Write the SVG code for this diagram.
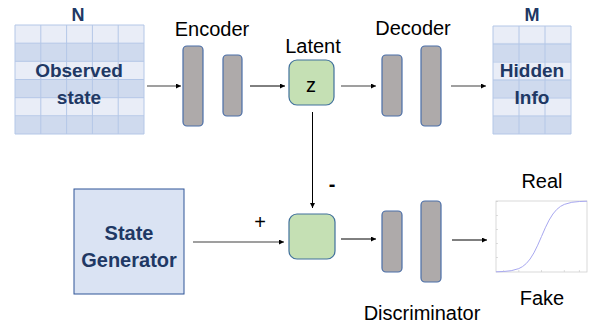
<svg xmlns="http://www.w3.org/2000/svg" width="595" height="326" viewBox="0 0 595 326">
<defs>
<marker id="ah" viewBox="0 0 6 6" refX="6" refY="3" markerWidth="5" markerHeight="5" markerUnits="userSpaceOnUse" orient="auto"><path d="M0,0 L6,3 L0,6 z" fill="#000"/></marker>
<pattern id="rowsN" x="0" y="25" width="10" height="36.33" patternUnits="userSpaceOnUse">
<rect x="0" y="0" width="10" height="18.17" fill="#E9EDF7"/>
<rect x="0" y="18.17" width="10" height="18.17" fill="#CFDAEE"/>
</pattern>
</defs>
<style>
.lbl{font-family:"Liberation Sans",Arial,sans-serif;font-size:20px;fill:#000;text-anchor:middle}
.bt{font-family:"Liberation Sans",Arial,sans-serif;font-weight:bold;fill:#203864;text-anchor:middle}
.bar{fill:#AEAAAA;stroke:#4A6EA8;stroke-width:1.2}
.green{fill:#C5E0B4;stroke:#41719C;stroke-width:1.2}
.gl{stroke:#B4C7E7;stroke-width:1;fill:none}
.cg{stroke:#7F7F7F;stroke-width:1.4;fill:none}
.cb{stroke:#000;stroke-width:1;fill:none}
</style>

<g id="observed-state">
<rect x="15" y="25" width="129" height="109" fill="url(#rowsN)"/>
<path class="gl" d="M15,25 H144 V134 H15 Z M40.8,25 V134 M66.6,25 V134 M92.4,25 V134 M118.2,25 V134 M15,43.2 H144 M15,61.3 H144 M15,79.5 H144 M15,97.7 H144 M15,115.8 H144"/>
<text class="bt" x="78" y="21" font-size="18">N</text>
<text class="bt" x="79" y="77" font-size="19">Observed</text>
<text class="bt" x="79" y="104" font-size="19">state</text>
</g>

<g id="encoder">
<rect class="bar" x="183" y="46" width="20" height="80" rx="4"/>
<rect class="bar" x="223" y="55" width="19" height="61" rx="4"/>
<text class="lbl" x="212" y="36">Encoder</text>
</g>

<g id="latent">
<rect class="green" x="289" y="60" width="45" height="45" rx="8"/>
<text class="lbl" x="311" y="92" font-size="17">z</text>
<text class="lbl" x="313" y="53">Latent</text>
</g>

<g id="decoder">
<rect class="bar" x="382" y="55" width="20" height="61" rx="4"/>
<rect class="bar" x="421" y="46" width="20" height="80" rx="4"/>
<text class="lbl" x="413" y="35">Decoder</text>
</g>

<g id="hidden-info">
<rect x="493" y="26" width="78" height="108" fill="url(#rowsN)"/>
<path class="gl" d="M493,26 H571 V134 H493 Z M519,26 V134 M545,26 V134 M493,44 H571 M493,62 H571 M493,80 H571 M493,98 H571 M493,116 H571"/>
<text class="bt" x="532" y="21" font-size="18">M</text>
<text class="bt" x="532" y="77" font-size="19">Hidden</text>
<text class="bt" x="532" y="104" font-size="19">Info</text>
</g>

<g id="state-generator">
<rect x="74" y="189" width="110" height="105" fill="#DAE3F3" stroke="#2F5597" stroke-width="1"/>
<text class="bt" x="129" y="240" font-size="20">State</text>
<text class="bt" x="129" y="267" font-size="20">Generator</text>
</g>

<g id="difference">
<rect class="green" x="289" y="214" width="46" height="45" rx="8"/>
</g>

<g id="discriminator">
<rect class="bar" x="382" y="211" width="20" height="61" rx="4"/>
<rect class="bar" x="421" y="201" width="20" height="81" rx="4"/>
<text class="lbl" x="422" y="320">Discriminator</text>
</g>

<g id="sigmoid">
<rect x="496" y="201" width="91" height="71" fill="#fff" stroke="#D0D0D0" stroke-width="0.8"/>
<path d="M496,201.5 h2 M496,215.5 h2 M496,229.5 h2 M496,243.5 h2 M496,257.5 h2 M503.6,272 v-2 M518.8,272 v-2 M541.5,272 v-2 M564.3,272 v-2 M579.4,272 v-2" stroke="#C8C8C8" stroke-width="0.6" fill="none"/>
<polyline fill="none" stroke="#A8A8F0" stroke-width="1" points="496,271.8 503.6,271.5 511.2,270.7 518.8,268.6 522.5,266.6 526.3,263.5 530.1,259 533.9,252.9 537.7,245.2 541.5,236.5 545.3,227.8 549.1,220.1 552.9,214 556.7,209.5 560.5,206.4 564.3,204.4 571.8,202.3 579.4,201.5 587,201.2"/>
<text class="lbl" x="542" y="188">Real</text>
<text class="lbl" x="542" y="305">Fake</text>
</g>

<g id="connectors">
<line class="cg" x1="147" y1="86" x2="181" y2="86" marker-end="url(#ah)"/>
<line class="cb" x1="250" y1="86" x2="285" y2="86" marker-end="url(#ah)"/>
<line class="cg" x1="341" y1="86" x2="376" y2="86" marker-end="url(#ah)"/>
<line class="cg" x1="451" y1="86" x2="486" y2="86" marker-end="url(#ah)"/>
<line class="cb" x1="312.5" y1="112" x2="312.5" y2="208" marker-end="url(#ah)"/>
<line class="cg" x1="193" y1="242" x2="284" y2="242" marker-end="url(#ah)"/>
<line class="cb" x1="341" y1="239" x2="376" y2="239" marker-end="url(#ah)"/>
<line class="cb" x1="452" y1="240" x2="487" y2="240" marker-end="url(#ah)"/>
<text class="lbl" x="260" y="229" font-size="18">+</text>
<text class="lbl" x="332" y="191" font-size="18" font-weight="bold">-</text>
</g>
</svg>
